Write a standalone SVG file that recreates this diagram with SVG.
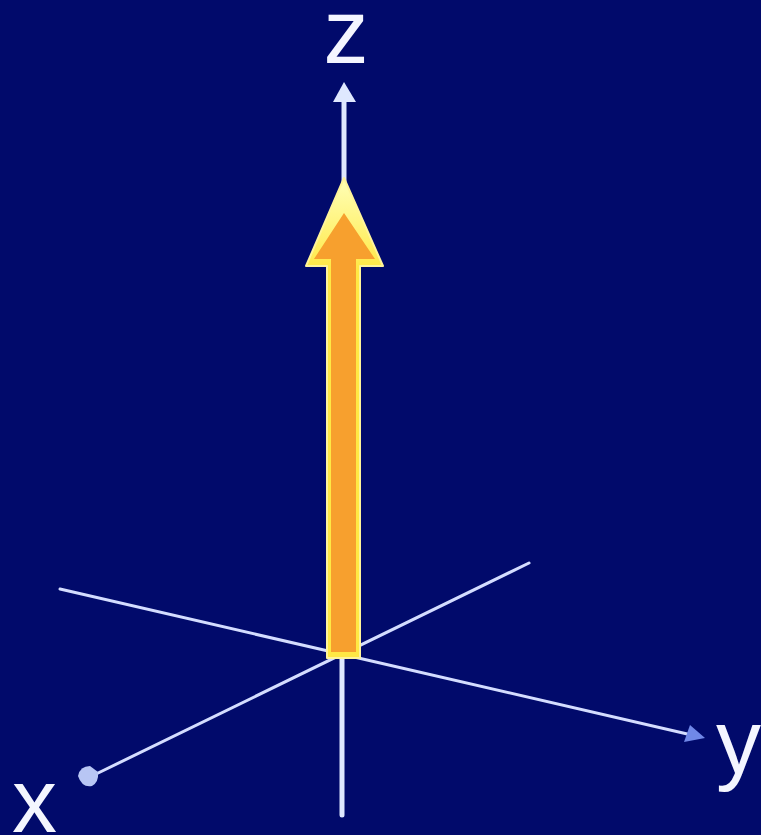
<svg xmlns="http://www.w3.org/2000/svg" width="761" height="835" viewBox="0 0 761 835">
<defs>
<style>
.axis{stroke:#d4ddff;stroke-width:3;stroke-linecap:round;fill:none}
.lbl{font-family:"Liberation Sans",Arial,sans-serif;font-size:90px;fill:#f4f6ff}
</style>
<linearGradient id="glow" x1="0" y1="178" x2="0" y2="270" gradientUnits="userSpaceOnUse">
<stop offset="0" stop-color="#ffffb8"/>
<stop offset="1" stop-color="#ffe844"/>
</linearGradient>
</defs>
<rect width="761" height="835" fill="#010a6b"/>
<g id="connectors">
<line class="axis" x1="60" y1="589" x2="696" y2="736"/>
<line class="axis" x1="529" y1="563" x2="92" y2="776"/>
<line class="axis" x1="342" y1="655" x2="342" y2="815" style="stroke-width:5;stroke:#dfe8ff"/>
<line class="axis" x1="344" y1="100" x2="344" y2="190" style="stroke-width:5;stroke:#dfe8ff"/>
</g>
<g id="z-axis">
<polygon points="344,82 333,102 356,102" fill="#dfe8ff"/>
<text class="lbl" x="346" y="63" text-anchor="middle">z</text>
</g>
<g id="y-axis">
<polygon points="705,738 684,742 690,725" fill="#7088e8"/>
<text class="lbl" x="716" y="773">y</text>
</g>
<g id="x-axis">
<path d="M78,776 Q80,766 90,766 L98,772 Q99,782 92,786 Q82,788 78,776 Z" fill="#b8c6f4"/>
<text class="lbl" x="12" y="832">x</text>
</g>
<g id="vector">
<polygon points="344,178 383,266 360,266 360,658 327,658 327,266 306,266" fill="url(#glow)" stroke="#fff49a" stroke-width="2" stroke-linejoin="round"/>
<polygon points="344,213 375,259 356,259 356,652 331,652 331,259 314,259" fill="#f7a02e"/>
</g>
</svg>
